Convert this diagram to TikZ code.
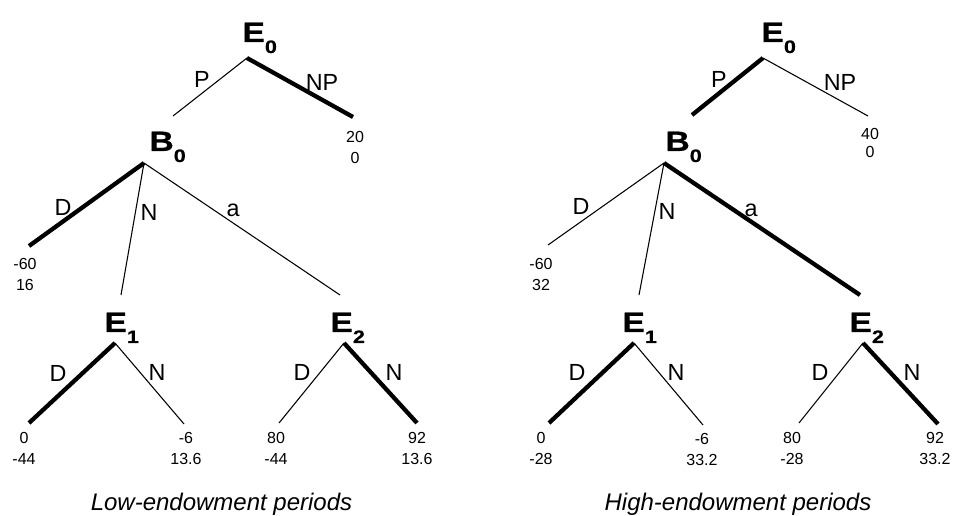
\documentclass[tikz,border=0pt]{standalone}
\usepackage{fontspec}
\setmainfont{Liberation Sans}
\newfontfamily\Efont[FakeStretch=1.2, BoldFeatures={FakeBold=0.6}]{Liberation Sans}
\newfontfamily\ESfont[FakeStretch=1.2, BoldFeatures={FakeBold=0.6}]{Liberation Sans}
\newcommand{\nodelab}[2]{{\Efont\bfseries\fontsize{21}{24}\selectfont #1}\raisebox{-8.25pt}{\ESfont\bfseries\fontsize{13.5}{14}\selectfont #2}}
\tikzset{
  weakedge/.style={line width=0.8pt},
  strongedge/.style={line width=3.2pt},
  lab/.style={inner sep=0pt, outer sep=0pt, anchor=base west},
  edgelab/.style={inner sep=0pt, font=\fontsize{17.5}{20}\selectfont},
  pay/.style={inner sep=0pt, anchor=north, align=center, font=\fontsize{12}{15.75}\selectfont},
  capt/.style={inner sep=0pt, anchor=base, font=\itshape\fontsize{18}{20}\selectfont}
}
\begin{document}
\begin{tikzpicture}[x=0.75pt, y=-0.75pt]
\useasboundingbox (0,0) rectangle (954,516);
% ---------------- Left tree ----------------
\node[lab] (LE0) at (242.5,42) {\nodelab{E}{0}};
\node[lab] (LB0) at (149.5,151) {\nodelab{B}{0}};
\node[lab] (LE1) at (104.5,332) {\nodelab{E}{1}};
\node[lab] (LE2) at (330.5,332) {\nodelab{E}{2}};
\coordinate (LE0v) at (247,58);
\coordinate (LPend) at (173,116);
\coordinate (LNPend) at (353,117);
\coordinate (LB0v) at (144,163);
\coordinate (LDend) at (29,246);
\coordinate (LNend) at (121,295);
\coordinate (Laend) at (340,295);
\coordinate (LE1v) at (115,343);
\coordinate (LE1D) at (29,423);
\coordinate (LE1N) at (184,424);
\coordinate (LE2v) at (344,343);
\coordinate (LE2D) at (279,423);
\coordinate (LE2N) at (417,423);
\draw[weakedge] (LE0v) -- (LPend);
\draw[strongedge] (LE0v) -- (LNPend);
\draw[strongedge] (LB0v) -- (LDend);
\draw[weakedge] (LB0v) -- (LNend);
\draw[weakedge] (LB0v) -- (Laend);
\draw[strongedge] (LE1v) -- (LE1D);
\draw[weakedge] (LE1v) -- (LE1N);
\draw[weakedge] (LE2v) -- (LE2D);
\draw[strongedge] (LE2v) -- (LE2N);
\node[edgelab] (LlP) at (202,79) {P};
\node[edgelab] (LlNP) at (322,82) {NP};
\node[edgelab] (LlD) at (63,207) {D};
\node[edgelab] (LlN) at (149,212) {N};
\node[edgelab, anchor=base] (Lla) at (233,217) {a};
\node[edgelab] (LlE1D) at (58,373) {D};
\node[edgelab] (LlE1N) at (157,372) {N};
\node[edgelab] (LlE2D) at (302,372) {D};
\node[edgelab] (LlE2N) at (394,372) {N};
\node[pay] (Lp1) at (355,131) {20\\0};
\node[pay] (Lp2) at (25,258) {-60\\16};
\node[pay] (Lp3) at (24,432) {0\\-44};
\node[pay] (Lp4) at (186,432) {-6\\13.6};
\node[pay] (Lp5) at (276,432) {80\\-44};
\node[pay] (Lp6) at (417,432) {92\\13.6};
\node[capt] (Lcap) at (221.5,511) {Low-endowment periods};
% ---------------- Right tree ----------------
\node[lab] (RE0) at (761.5,42) {\nodelab{E}{0}};
\node[lab] (RB0) at (665.5,151) {\nodelab{B}{0}};
\node[lab] (RE1) at (622.5,332) {\nodelab{E}{1}};
\node[lab] (RE2) at (849.5,332) {\nodelab{E}{2}};
\coordinate (RE0v) at (763,58);
\coordinate (RPend) at (692,115);
\coordinate (RNPend) at (868,116);
\coordinate (RB0v) at (664,163);
\coordinate (RDend) at (548,245);
\coordinate (RNend) at (639,295);
\coordinate (Raend) at (860,295);
\coordinate (RE1v) at (634,343);
\coordinate (RE1D) at (549,423);
\coordinate (RE1N) at (703,425);
\coordinate (RE2v) at (863,343);
\coordinate (RE2D) at (799,423);
\coordinate (RE2N) at (938,424);
\draw[strongedge] (RE0v) -- (RPend);
\draw[weakedge] (RE0v) -- (RNPend);
\draw[weakedge] (RB0v) -- (RDend);
\draw[weakedge] (RB0v) -- (RNend);
\draw[strongedge] (RB0v) -- (Raend);
\draw[strongedge] (RE1v) -- (RE1D);
\draw[weakedge] (RE1v) -- (RE1N);
\draw[weakedge] (RE2v) -- (RE2D);
\draw[strongedge] (RE2v) -- (RE2N);
\node[edgelab] (RlP) at (719,79) {P};
\node[edgelab] (RlNP) at (840,82) {NP};
\node[edgelab] (RlD) at (581,206) {D};
\node[edgelab] (RlN) at (667,211) {N};
\node[edgelab, anchor=base] (Rla) at (751,217) {a};
\node[edgelab] (RlE1D) at (577,372) {D};
\node[edgelab] (RlE1N) at (676,372) {N};
\node[edgelab] (RlE2D) at (820,372) {D};
\node[edgelab] (RlE2N) at (912,372) {N};
\node[pay, font=\fontsize{12}{13.9}\selectfont] (Rp1) at (870,128) {40\\0};
\node[pay] (Rp2) at (541,258) {-60\\32};
\node[pay] (Rp3) at (541,432) {0\\-28};
\node[pay] (Rp4) at (702,433) {-6\\33.2};
\node[pay] (Rp5) at (792,432) {80\\-28};
\node[pay] (Rp6) at (935,432) {92\\33.2};
\node[capt] (Rcap) at (738,511) {High-endowment periods};
\end{tikzpicture}
\end{document}
